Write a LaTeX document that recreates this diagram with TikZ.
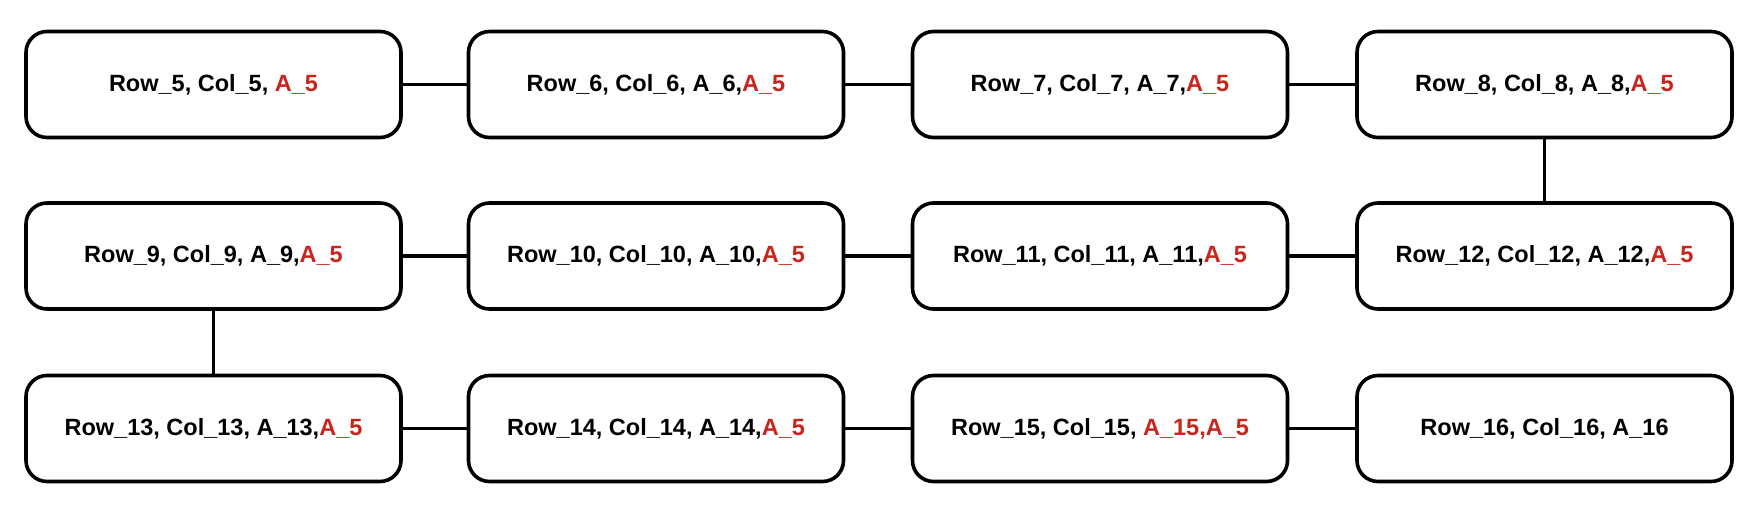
\documentclass[tikz,border=0pt]{standalone}
\usepackage{fontspec}
\setmainfont{Liberation Sans}
\definecolor{myred}{RGB}{200,38,28}
\newcommand{\rd}[1]{\textcolor{myred}{#1}}
\begin{document}
\begin{tikzpicture}[x=1pt,y=-1pt,
  box/.style={draw, line width=3.6pt, rounded corners=21pt, minimum width=375pt, minimum height=106pt, inner sep=0pt, font=\fontsize{23.5}{28}\selectfont\bfseries},
  link/.style={line width=3.6pt}]
\useasboundingbox (0,0) rectangle (1744,506);
\node[box] (n5)  at (213.5,84.5) {Row\_5, Col\_5, \rd{A\_5}};
\node[box] (n6)  at (656,84.5)   {Row\_6, Col\_6, A\_6,\rd{A\_5}};
\node[box] (n7)  at (1100,84.5)  {Row\_7, Col\_7, A\_7,\rd{A\_5}};
\node[box] (n8)  at (1544.5,84.5){Row\_8, Col\_8, A\_8,\rd{A\_5}};
\node[box] (n9)  at (213.5,256)  {Row\_9, Col\_9, A\_9,\rd{A\_5}};
\node[box] (n10) at (656,256)    {Row\_10, Col\_10, A\_10,\rd{A\_5}};
\node[box] (n11) at (1100,256)   {Row\_11, Col\_11, A\_11,\rd{A\_5}};
\node[box] (n12) at (1544.5,256) {Row\_12, Col\_12, A\_12,\rd{A\_5}};
\node[box] (n13) at (213.5,428.5){Row\_13, Col\_13, A\_13,\rd{A\_5}};
\node[box] (n14) at (656,428.5)  {Row\_14, Col\_14, A\_14,\rd{A\_5}};
\node[box] (n15) at (1100,428.5) {Row\_15, Col\_15, \rd{A\_15,A\_5}};
\node[box] (n16) at (1544.5,428.5){Row\_16, Col\_16, A\_16};
\draw[link] (n5) -- (n6);
\draw[link] (n6) -- (n7);
\draw[link] (n7) -- (n8);
\draw[link] (n8) -- (n12);
\draw[link] (n9) -- (n10);
\draw[link] (n10) -- (n11);
\draw[link] (n11) -- (n12);
\draw[link] (n9) -- (n13);
\draw[link] (n13) -- (n14);
\draw[link] (n14) -- (n15);
\draw[link] (n15) -- (n16);
\end{tikzpicture}
\end{document}
